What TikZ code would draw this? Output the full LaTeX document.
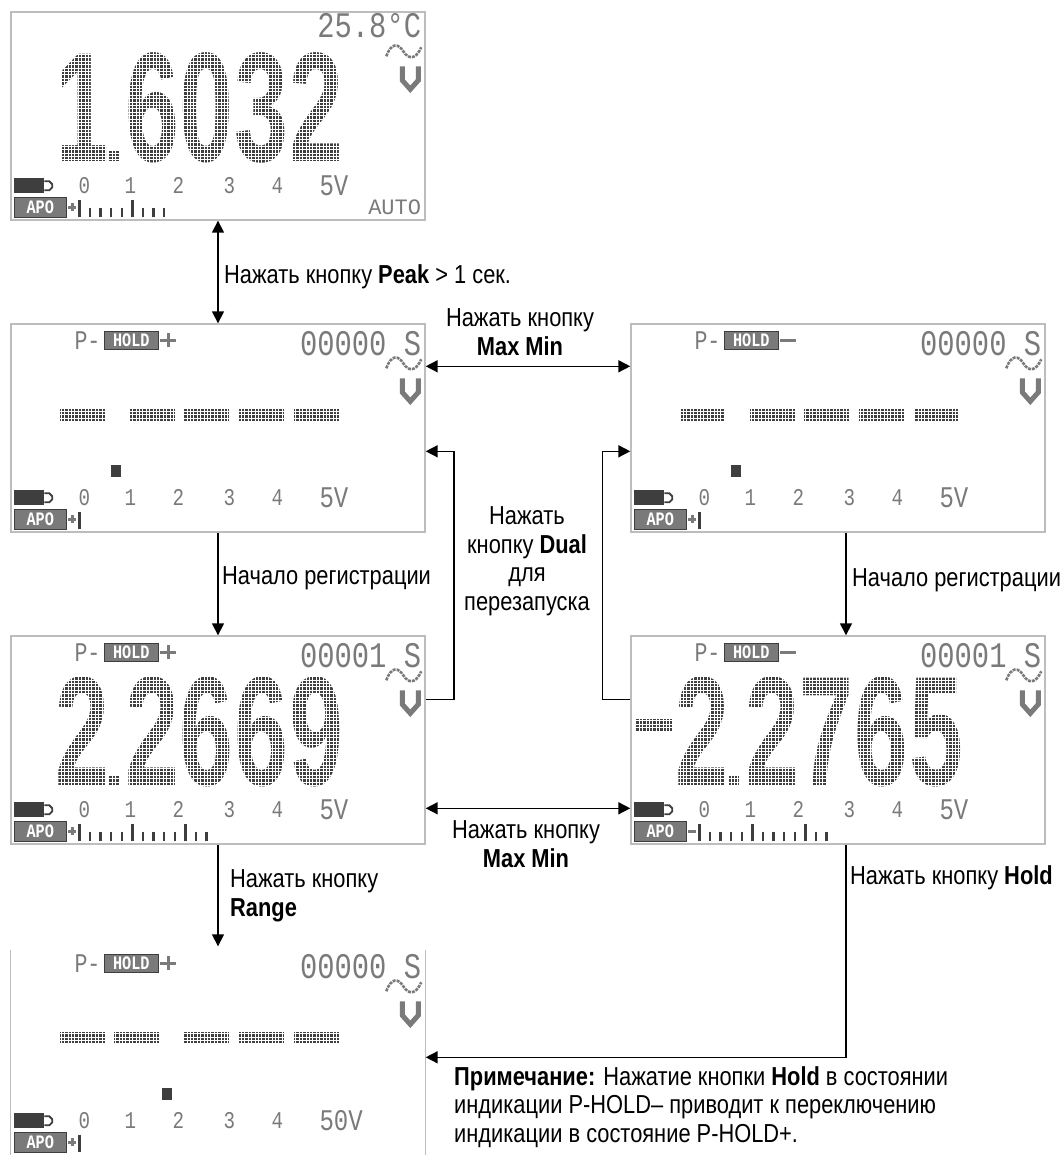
\documentclass[tikz,border=0pt]{standalone}
\usepackage{fontspec}
\setmainfont{Liberation Sans}[FakeStretch=0.84]
\newfontfamily\lcdfont{Liberation Mono}[FakeStretch=0.8]
\newfontfamily\lcdbreit{Liberation Mono}
\newfontfamily\grossfont{Liberation Sans}[FakeStretch=0.62]
\usetikzlibrary{arrows.meta,calc}
\definecolor{rahmen}{HTML}{BDBDBD}
\definecolor{segd}{HTML}{3E3E3E}
\definecolor{segm}{HTML}{7A7A7A}
\tikzset{
  anz/.style={draw=rahmen,line width=1.4pt,minimum width=414pt,minimum height=208pt,inner sep=0pt},
  pfeil/.style={-{Triangle[length=12pt,width=12pt]},line width=1.6pt},
  dpfeil/.style={{Triangle[length=12pt,width=12pt]}-{Triangle[length=12pt,width=12pt]},line width=1.6pt},
  txt/.style={font=\fontsize{26pt}{28.5pt}\selectfont,inner sep=0pt},
  lcd/.style={font=\lcdfont\fontsize{#1}{#1}\selectfont,text=segm,inner sep=0pt},
  gross/.style={font=\grossfont\bfseries\fontsize{156pt}{156pt}\selectfont,text=segd,inner sep=0pt,anchor=base},
  inv/.style={fill=segm,draw=segd,line width=1pt,inner sep=0pt,text=white,font=\lcdfont\bfseries\fontsize{19pt}{19pt}\selectfont},
  seg/.style={segm,line width=2.6pt},
  raster/.style={white,line width=0.9pt,step=3.4pt},
}
\begin{document}
\begin{tikzpicture}[x=1pt,y=-1pt]
  \useasboundingbox (0,0) rectangle (1061,1155);
  \node[anz] (d1) at (218,116) {};
  \node[anz] (d2) at (218,428) {};
  \node[anz] (d3) at (838,428) {};
  \node[anz] (d4) at (218,740) {};
  \node[anz] (d5) at (838,740) {};
  \node[anz,draw=none] (d6) at (218,1051) {};
  \draw[rahmen,line width=1.4pt] ([yshift=-4pt]d6.north west) -- (d6.south west)
    ([yshift=-4pt]d6.north east) -- (d6.south east);

  \foreach \d/\r/\n/\v in {d1/5V/8/4,d2/5V/0/4,d3/5V/0/4,d4/5V/12/4,d5/5V/12/0,d6/50V/0/4}{
    \begin{scope}[shift={(\d.north west)}]
      \fill[segd] (4,167) rectangle (34,182);
      \draw[segd,line width=1.8pt] (34,170) -- (39,170) -- (42,173) -- (42,176) -- (39,179) -- (34,179);
      \foreach \x/\z in {74/0,120/1,168/2,219/3,267/4}
        \node[lcd=24pt] (\d-\z) at (\x,174) {\z};
      \node[lcd=30pt,anchor=west] (\d-r) at (309,174) {\r};
      \node[inv,minimum width=52pt,minimum height=20pt] (\d-apo) at (30,196) {APO};
      \draw[seg] (58,196) -- (66,196) (62,196-\v) -- (62,196+\v);
      \foreach \k in {0,...,\n}{
        \pgfmathsetmacro\h{ifthenelse(mod(\k,5)==0,17,9)}
        \draw[segd,line width=2.4pt] (69+10.6*\k,206) -- ++(0,-\h);}
      \draw[seg,dash pattern=on 3pt off 1pt] (376,45) .. controls (381,31) and (388,32) .. (393,40)
        .. controls (398,48) and (405,49) .. (411,36);
      \draw[segm,line width=5pt] (392,55) -- (392,69) -- (400,78) -- (408,69) -- (408,55);
    \end{scope}}

  \foreach \d/\w/\v in {d2/00000/7,d3/00000/0,d4/00001/7,d5/00001/0,d6/00000/7}{
    \begin{scope}[shift={(\d.north west)}]
      \node[lcd=27pt,anchor=west] (\d-p) at (64,17) {P-};
      \node[inv,minimum width=54pt,minimum height=18pt] (\d-hold) at (121,17) {HOLD};
      \draw[seg] (150,17) -- (166,17) (158,17-\v) -- (158,17+\v);
      \node[lcd=36pt,anchor=east] (\d-c) at (411,20) {\w{} S};
    \end{scope}}

  \foreach \d/\a/\b/\c/\e/\f in {d1/1/6/0/3/2,d4/2/2/6/6/9,d5/2/2/7/6/5}{
    \begin{scope}[shift={(\d.north west)}]
      \foreach \x/\z in {72/\a,142/\b,196/\c,251/\e,306/\f}
        \node[gross] (\d-g\x) at (\x,150) {\z};
      \fill[segd] (99,140) rectangle (109,150);
    \end{scope}}
  \fill[segd] ([shift={(5,84)}]d5.north west) rectangle ([shift={(42,96)}]d5.north west);

  \begin{scope}[shift={(d1.north west)}]
    \node[lcd=36pt,anchor=east] (d1-t) at (411,14) {25.8°C};
    \node[font=\lcdbreit\fontsize{22pt}{22pt}\selectfont,text=segm,inner sep=0pt,anchor=east] (d1-auto) at (411,196) {AUTO};
  \end{scope}

  \foreach \d/\m in {d2/101,d3/101,d6/152}{
    \begin{scope}[shift={(\d.north west)}]
      \fill[segd] (\m,142) rectangle ++(10,12);
    \end{scope}}
  \foreach \d/\a in {d2/142,d3/142,d6/126}
    \foreach \x in {72,\a,196,251,306}{
      \begin{scope}[shift={(\d.north west)}]
        \fill[segd] (\x-22.5,86) rectangle ++(45,12);
      \end{scope}}

  \foreach \d in {d1,d4,d5}
    \draw[raster] ([shift={(2,34)}]\d.north west) grid ([shift={(345,154)}]\d.north west);
  \foreach \d in {d2,d3,d6}
    \draw[raster] ([shift={(45,84)}]\d.north west) grid ([shift={(335,100)}]\d.north west);

  \node[txt,anchor=west] (tpeak) at (224,277) {Нажать кнопку \textbf{Peak} > 1 сек.};
  \node[txt,align=center] (tmm1) at (520,332) {Нажать кнопку\\\textbf{Max Min}};
  \node[txt,align=center] (tdual) at (527,561) {Нажать\\кнопку \textbf{Dual}\\для\\перезапуска};
  \node[txt,anchor=west] (treg1) at (222,578) {Начало регистрации};
  \node[txt,anchor=west] (treg2) at (852,580) {Начало регистрации};
  \node[txt,align=center] (tmm2) at (526,844) {Нажать кнопку\\\textbf{Max Min}};
  \node[txt,align=left,anchor=west] (trange) at (230,896) {Нажать кнопку\\\textbf{Range}};
  \node[txt,anchor=west] (thold) at (850,878) {Нажать кнопку \textbf{Hold}};
  \node[txt,align=left,anchor=west] (tnote) at (454,1107) {\textbf{Примечание:} Нажатие кнопки \textbf{Hold} в состоянии\\индикации P-HOLD– приводит к переключению\\индикации в состояние P-HOLD+.};

  \draw[dpfeil] (d1.south) -- (d2.north);
  \draw[dpfeil] ([yshift=-43pt]d2.north east) -- ([yshift=-43pt]d3.north west);
  \draw[pfeil] (d2.south) -- (d4.north);
  \draw[pfeil] ([xshift=8pt]d3.south) -- ([xshift=8pt]d5.north);
  \draw[pfeil] ([yshift=-64pt]d4.north east) -- ++(28,0) |- ([yshift=-128pt]d2.north east);
  \draw[pfeil] ([yshift=-64pt]d5.north west) -- ++(-28,0) |- ([yshift=-128pt]d3.north west);
  \draw[dpfeil] ([yshift=-173pt]d4.north east) -- ([yshift=-173pt]d5.north west);
  \draw[pfeil] (d4.south) -- (d6.north);
  \draw[pfeil] ([xshift=8pt]d5.south) |- ([yshift=-111pt]d6.north east);
\end{tikzpicture}
\end{document}
